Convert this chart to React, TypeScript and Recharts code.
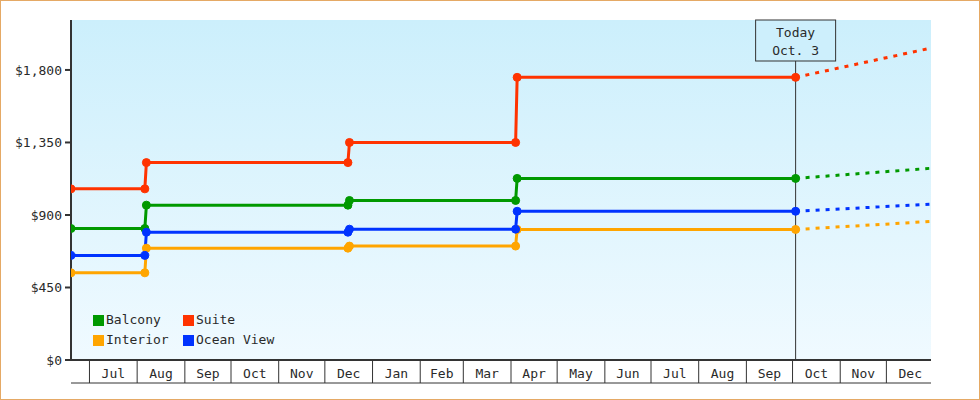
import { LineChart, Line, XAxis, YAxis, CartesianGrid, ReferenceLine } from "recharts";

// price history points (two points per price change, one day apart)
const pointDates = [
  "2024-06-19",
  "2024-08-06",
  "2024-08-07",
  "2024-12-16",
  "2024-12-17",
  "2025-04-04",
  "2025-04-05",
  "2025-10-03",
  "2025-12-30",
];
const balcony = [816, 816, 961, 961, 990, 990, 1127, 1127, null];
const suite = [1062, 1062, 1225, 1225, 1350, 1350, 1754, 1754, null];
const interior = [541, 541, 694, 694, 707, 707, 810, 810, null];
const oceanView = [649, 649, 793, 793, 812, 812, 923, 923, null];

// projection from today to the end of the window
const balconyForecast = [null, null, null, null, null, null, null, 1127, 1190];
const suiteForecast = [null, null, null, null, null, null, null, 1754, 1936];
const interiorForecast = [null, null, null, null, null, null, null, 810, 860];
const oceanViewForecast = [null, null, null, null, null, null, null, 923, 967];

const monthStarts = [
  "2024-07-01", "2024-08-01", "2024-09-01", "2024-10-01", "2024-11-01", "2024-12-01",
  "2025-01-01", "2025-02-01", "2025-03-01", "2025-04-01", "2025-05-01", "2025-06-01",
  "2025-07-01", "2025-08-01", "2025-09-01", "2025-10-01", "2025-11-01", "2025-12-01",
  "2026-01-01",
];
const monthLabels = [
  "Jul", "Aug", "Sep", "Oct", "Nov", "Dec", "Jan", "Feb", "Mar",
  "Apr", "May", "Jun", "Jul", "Aug", "Sep", "Oct", "Nov", "Dec",
];
const yTicks = [0, 450, 900, 1350, 1800];

const todayDate = "2025-10-03";
const todayLines = ["Today", "Oct. 3"];
const domainStart = "2024-06-19";
const domainEnd = "2025-12-30";

const series = [
  { key: "balcony", name: "Balcony", color: "#009900" },
  { key: "suite", name: "Suite", color: "#ff3300" },
  { key: "interior", name: "Interior", color: "#ffa500" },
  { key: "oceanView", name: "Ocean View", color: "#0033ff" },
];

const toTime = (d: string) => Date.parse(d);

const data = pointDates.map((d, i) => ({
  t: toTime(d),
  balcony: balcony[i],
  suite: suite[i],
  interior: interior[i],
  oceanView: oceanView[i],
  balconyF: balconyForecast[i],
  suiteF: suiteForecast[i],
  interiorF: interiorForecast[i],
  oceanViewF: oceanViewForecast[i],
}));

const startTicks = monthStarts.slice(0, -1).map(toTime);
const midTicks = monthStarts.slice(0, -1).map((m, i) => (toTime(m) + toTime(monthStarts[i + 1])) / 2);
const xDomain = [toTime(domainStart), toTime(domainEnd)];

const INK = "#333";
const TEXT = "#2a2a2a";
const FONT = "'DejaVu Sans Mono', monospace";

const MonthTick = ({ x, y, index }: any) => (
  <text x={x} y={y + 17.5} textAnchor="middle" fill={TEXT} fontSize={13} fontFamily={FONT}>
    {monthLabels[index]}
  </text>
);

const TodayLabel = ({ viewBox }: any) => {
  if (!viewBox) return null;
  const cx = viewBox.x;
  const top = viewBox.y;
  return (
    <g>
      <rect x={cx - 40} y={top} width={80} height={41} fill="#cdeffc" stroke={INK} strokeWidth={1} />
      <text x={cx} y={top + 17} textAnchor="middle" fill={TEXT} fontSize={13} fontFamily={FONT}>
        {todayLines[0]}
      </text>
      <text x={cx} y={top + 35} textAnchor="middle" fill={TEXT} fontSize={13} fontFamily={FONT}>
        {todayLines[1]}
      </text>
    </g>
  );
};

export default function App() {
  return (
    <div style={{ position: "relative", width: 980, height: 400, background: "#fff", fontFamily: FONT }}>
      <style>{"body{margin:0}"}</style>
      <LineChart width={980} height={400} data={data} margin={{ top: 20, right: 49, bottom: 16, left: 0 }}>
        <defs>
          <linearGradient id="bgGrad" x1="0" y1="0" x2="0" y2="1">
            <stop offset="0%" stopColor="#cceffc" />
            <stop offset="100%" stopColor="#f0faff" />
          </linearGradient>
        </defs>
        <CartesianGrid xAxisId="lab" horizontal={false} vertical={false} fill="url(#bgGrad)" />
        {/* month labels + top axis line */}
        <XAxis
          xAxisId="lab"
          dataKey="t"
          type="number"
          scale="time"
          domain={xDomain}
          ticks={midTicks}
          interval={0}
          height={23}
          tickSize={0}
          tickMargin={0}
          tickLine={false}
          tick={<MonthTick />}
          axisLine={{ stroke: INK, strokeWidth: 2 }}
          allowDataOverflow
        />
        {/* month separators (drawn upward) + bottom line */}
        <XAxis
          xAxisId="sep"
          dataKey="t"
          type="number"
          scale="time"
          domain={xDomain}
          ticks={startTicks}
          interval={0}
          height={1}
          tickSize={-23}
          tickMargin={0}
          tick={() => <g />}
          tickLine={{ stroke: INK, strokeWidth: 1 }}
          axisLine={{ stroke: INK, strokeWidth: 1 }}
          allowDataOverflow
        />
        <YAxis
          type="number"
          domain={[0, 2110]}
          ticks={yTicks}
          width={71}
          interval={0}
          tickSize={6}
          tickMargin={3}
          tick={{ fill: TEXT, fontSize: 13, fontFamily: FONT }}
          tickLine={{ stroke: INK, strokeWidth: 2 }}
          axisLine={{ stroke: INK, strokeWidth: 2 }}
          tickFormatter={(v: number) => "$" + v.toLocaleString("en-US")}
          allowDataOverflow
        />
        <ReferenceLine xAxisId="lab" x={toTime(todayDate)} stroke={INK} strokeWidth={1} label={<TodayLabel />} />
        {series.map((s) => (
          <Line
            key={s.key + "F"}
            xAxisId="lab"
            dataKey={s.key + "F"}
            type="linear"
            stroke={s.color}
            strokeWidth={3}
            strokeDasharray="4 6"
            dot={false}
            activeDot={false}
            legendType="none"
            isAnimationActive={false}
          />
        ))}
        {series.map((s) => (
          <Line
            key={s.key}
            xAxisId="lab"
            dataKey={s.key}
            name={s.name}
            type="linear"
            stroke={s.color}
            strokeWidth={3}
            dot={{ r: 4, fill: s.color, stroke: s.color, strokeWidth: 1 }}
            activeDot={false}
            isAnimationActive={false}
          />
        ))}
      </LineChart>

      {/* legend, two columns inside the plot */}
      <div
        style={{
          position: "absolute",
          left: 93,
          top: 311,
          display: "grid",
          gridTemplateColumns: "90px 110px",
          rowGap: 2,
          fontSize: 13,
          color: TEXT,
          lineHeight: "18px",
        }}
      >
        {series.map((s) => (
          <div key={s.key} style={{ display: "flex", alignItems: "center" }}>
            <span style={{ width: 11, height: 11, background: s.color, marginRight: 2, display: "inline-block" }} />
            <span>{s.name}</span>
          </div>
        ))}
      </div>

      <div
        style={{
          position: "absolute",
          inset: 0,
          border: "1px solid #e5a965",
          pointerEvents: "none",
        }}
      />
    </div>
  );
}
